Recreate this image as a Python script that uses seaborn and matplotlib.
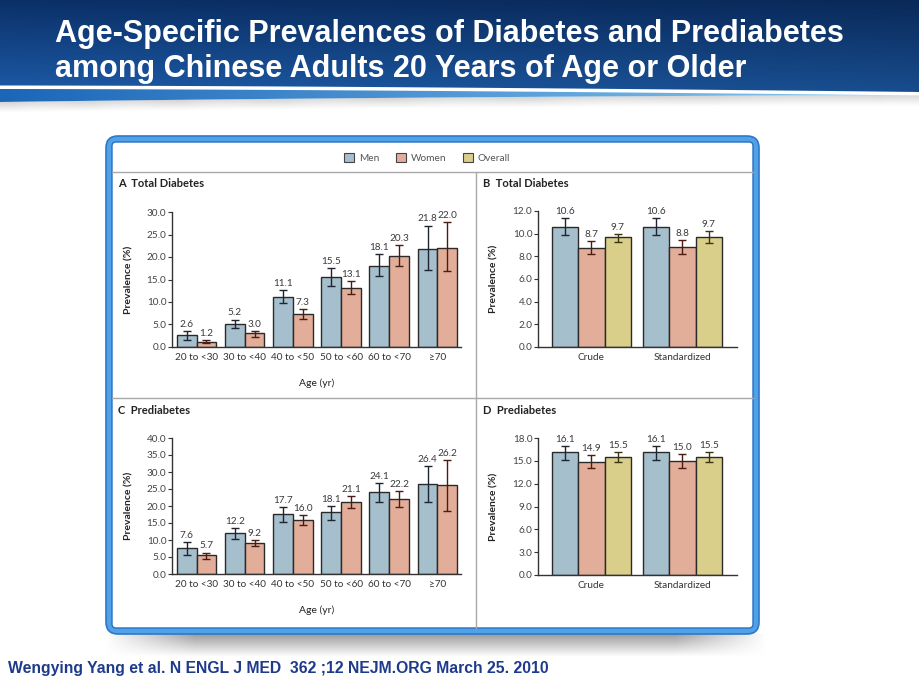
import numpy as np
import pandas as pd
import matplotlib
matplotlib.use("Agg")
import matplotlib.pyplot as plt
import seaborn as sns
from matplotlib.patches import FancyBboxPatch, Patch, Polygon
from matplotlib.lines import Line2D

# ---------------- data ----------------
age_groups = ["20 to <30", "30 to <40", "40 to <50", "50 to <60", "60 to <70", "\u226570"]
methods = ["Crude", "Standardized"]
series = ["Men", "Women", "Overall"]

diab_men = [2.6, 5.2, 11.1, 15.5, 18.1, 21.8]
diab_men_lo = [1.6, 4.2, 9.7, 13.6, 15.8, 17.1]
diab_men_hi = [3.6, 6.1, 12.6, 17.6, 20.6, 27.0]
diab_women = [1.2, 3.0, 7.3, 13.1, 20.3, 22.0]
diab_women_lo = [0.8, 2.3, 6.3, 11.7, 18.0, 16.8]
diab_women_hi = [1.6, 3.6, 8.4, 14.7, 22.6, 27.7]

prediab_men = [7.6, 12.2, 17.7, 18.1, 24.1, 26.4]
prediab_men_lo = [5.5, 10.3, 15.3, 15.8, 21.2, 21.2]
prediab_men_hi = [9.3, 13.5, 19.7, 20.0, 26.8, 31.8]
prediab_women = [5.7, 9.2, 16.0, 21.1, 22.2, 26.2]
prediab_women_lo = [4.5, 8.1, 14.5, 19.3, 19.6, 18.6]
prediab_women_hi = [6.3, 10.0, 17.3, 22.8, 24.4, 33.6]

td_men = [10.6, 10.6]
td_men_lo = [9.9, 9.9]
td_men_hi = [11.4, 11.4]
td_women = [8.7, 8.8]
td_women_lo = [8.2, 8.2]
td_women_hi = [9.35, 9.4]
td_overall = [9.7, 9.7]
td_overall_lo = [9.25, 9.2]
td_overall_hi = [10.0, 10.2]

pd_men = [16.1, 16.1]
pd_men_lo = [15.1, 15.1]
pd_men_hi = [17.0, 17.0]
pd_women = [14.9, 15.0]
pd_women_lo = [14.0, 14.1]
pd_women_hi = [15.8, 15.9]
pd_overall = [15.5, 15.5]
pd_overall_lo = [14.9, 14.9]
pd_overall_hi = [16.1, 16.1]

title_lines = ["Age-Specific Prevalences of Diabetes and Prediabetes",
               "among Chinese Adults 20 Years of Age or Older"]
footer = "Wengying Yang et al. N ENGL J MED  362 ;12 NEJM.ORG March 25. 2010"

colors = {"Men": "#a6bfcd", "Women": "#e2ae9a", "Overall": "#d9cf8b"}
ecolors = {"Men": "#1c2530", "Women": "#4a1c14", "Overall": "#3a3412"}

# ---------------- style ----------------
sns.set_style("ticks")
plt.rcParams['font.family'] = ['Lato', 'DejaVu Sans']

W, H = 920, 690
fig = plt.figure(figsize=(9.2, 6.9), dpi=100)

# ---------------- background ----------------
yy, xx = np.mgrid[0:H, 0:W].astype(float)
img = np.ones((H, W, 3))
top = np.array([0x0b, 0x30, 0x68]) / 255
bot = np.array([0x1c, 0x5a, 0xa6]) / 255
t = np.clip(yy / 90, 0, 1)[..., None]
hdr = top * (1 - t) + bot * t
hdr = hdr * (1 - 0.15 * (xx / W))[..., None]
mask_h = yy < 100
img[mask_h] = hdr[mask_h]
# card shadow
d = (yy - 634) / 22
edge = np.clip(np.minimum(xx - 105, 765 - xx) / 90, 0, 1)
cs = (d >= 0) & (d < 1)
gg = 0.38 * (1 - d) * edge
img[cs] = np.minimum(img[cs], (1 - gg[cs])[:, None] * np.ones(3))

bg = fig.add_axes([0, 0, 1, 1], zorder=-10)
bg.imshow(img, extent=[0, W, H, 0], aspect='auto', interpolation='bilinear', zorder=0)
bg.set_xlim(0, W)
bg.set_ylim(H, 0)
bg.axis('off')

# header swoosh
xs_c = np.linspace(0, W, 400)
c_top = 85.5 + 6.5 * (xs_c / W) ** 1.6
white_bot = c_top + 3.5
thick = np.clip(13 * (1 - xs_c / 880), 0, None)
band_bot = white_bot + thick
bg.fill_between(xs_c, c_top, 112, color="white", lw=0, zorder=1)
for k in range(10):
    bg.fill_between(xs_c, band_bot + k, band_bot + k + 1.2,
                    color=str(1 - 0.16 * (1 - k / 10)), lw=0, zorder=1.5)
grad = np.linspace(0, 1, 256)[None, :, None]
c0 = np.array([0x1c, 0x66, 0xb8]) / 255
c1 = np.array([0x86, 0xc8, 0xf0]) / 255
gimg = c0 * (1 - grad) + c1 * grad
gim = bg.imshow(np.repeat(gimg, 2, axis=0), extent=[0, 880, 110, 85], aspect='auto',
                interpolation='bilinear', zorder=3)
poly = Polygon(np.column_stack([np.r_[xs_c, xs_c[::-1]], np.r_[white_bot, band_bot[::-1]]]),
               closed=True, facecolor='none', edgecolor='none', transform=bg.transData)
bg.add_patch(poly)
gim.set_clip_path(poly)
bg.set_xlim(0, W)
bg.set_ylim(H, 0)

# card
outer = FancyBboxPatch((106, 136), 653, 498, boxstyle="round,pad=0,rounding_size=12",
                       facecolor="#4fa2e8", edgecolor="#2f78c8", linewidth=1.2, zorder=4)
bg.add_patch(outer)
inner = FancyBboxPatch((112, 142), 641, 486, boxstyle="round,pad=0,rounding_size=4",
                       facecolor="white", edgecolor="#2a6fc0", linewidth=1.0, zorder=5)
bg.add_patch(inner)
for xs_, ys_ in [([112, 753], [172, 172]), ([112, 753], [398, 398]), ([476, 476], [172, 628])]:
    bg.add_line(Line2D(xs_, ys_, color="#a8a8a8", lw=1, zorder=6))

# title and footer
fig.text(55 / W, 1 - 34 / H, title_lines[0], color="white", fontsize=22, fontweight="bold",
         family=["Liberation Sans", "DejaVu Sans"], va="center", ha="left")
fig.text(55 / W, 1 - 69 / H, title_lines[1], color="white", fontsize=22, fontweight="bold",
         family=["Liberation Sans", "DejaVu Sans"], va="center", ha="left")
fig.text(8 / W, 1 - 668 / H, footer, color="#1e3a8a", fontsize=11.3, fontweight="bold",
         family=["Liberation Sans", "DejaVu Sans"], va="center", ha="left")


def add_ax(l, r, t, b):
    return fig.add_axes([l / W, 1 - b / H, (r - l) / W, (b - t) / H])


def draw(ax, cats, names, vals, los, his, ylim, yticks, width, xlim, xlabel):
    rows = []
    for n, v in zip(names, vals):
        for c, val in zip(cats, v):
            rows.append({"cat": c, "val": val, "series": n})
    df = pd.DataFrame(rows)
    sns.barplot(data=df, x="cat", y="val", hue="series", order=cats, hue_order=names,
                palette=[colors[n] for n in names], edgecolor="#2a2a2a", linewidth=1.0,
                width=width, errorbar=None, legend=False, saturation=1, ax=ax)
    for cont, n, v, lo, hi in zip(ax.containers, names, vals, los, his):
        xs = [p.get_x() + p.get_width() / 2 for p in cont]
        v = np.array(v); lo = np.array(lo); hi = np.array(hi)
        ax.errorbar(xs, v, yerr=[v - lo, hi - v], fmt="none", ecolor=ecolors[n],
                    elinewidth=1.0, capsize=2.6, capthick=1.0, zorder=5)
        for x, h, val in zip(xs, hi, v):
            ax.annotate(f"{val:.1f}", (x, h), xytext=(0, 1.5), textcoords="offset points",
                        ha="center", va="bottom", fontsize=7.2, color="#3a3a3a")
    ax.set_ylim(*ylim)
    ax.set_xlim(*xlim)
    ax.set_yticks(yticks)
    ax.set_yticklabels([f"{y:.1f}" for y in yticks])
    ax.tick_params(axis="y", length=3, width=0.8, color="#333", labelsize=7.2,
                   labelcolor="#444", pad=1)
    ax.tick_params(axis="x", length=0, labelsize=7.2, labelcolor="#333", pad=4)
    ax.set_facecolor("none")
    for sp in ["top", "right"]:
        ax.spines[sp].set_visible(False)
    for sp in ["left", "bottom"]:
        ax.spines[sp].set_color("#333")
        ax.spines[sp].set_linewidth(1.0)
    ax.set_xlabel(xlabel, fontsize=7.5, color="#222")
    ax.set_ylabel("Prevalence (%)", fontsize=7.5, color="#222", fontweight="bold")


axA = add_ax(172, 461, 212, 347)
draw(axA, age_groups, ["Men", "Women"], [diab_men, diab_women],
     [diab_men_lo, diab_women_lo], [diab_men_hi, diab_women_hi],
     (0, 30), np.arange(0, 30.1, 5), 0.82, (-0.51, 5.49), "Age (yr)")
axA.yaxis.set_label_coords(-0.135, 0.5)
axA.xaxis.set_label_coords(0.5, -0.23)

axB = add_ax(538, 737, 211, 347)
draw(axB, methods, series, [td_men, td_women, td_overall],
     [td_men_lo, td_women_lo, td_overall_lo], [td_men_hi, td_women_hi, td_overall_hi],
     (0, 12), np.arange(0, 12.1, 2), 0.87, (-0.586, 1.6), "")
axB.yaxis.set_label_coords(-0.2, 0.5)

axC = add_ax(172, 461, 438, 574)
draw(axC, age_groups, ["Men", "Women"], [prediab_men, prediab_women],
     [prediab_men_lo, prediab_women_lo], [prediab_men_hi, prediab_women_hi],
     (0, 40), np.arange(0, 40.1, 5), 0.82, (-0.51, 5.49), "Age (yr)")
axC.yaxis.set_label_coords(-0.135, 0.5)
axC.xaxis.set_label_coords(0.5, -0.23)

axD = add_ax(538, 737, 438, 575)
draw(axD, methods, series, [pd_men, pd_women, pd_overall],
     [pd_men_lo, pd_women_lo, pd_overall_lo], [pd_men_hi, pd_women_hi, pd_overall_hi],
     (0, 18), np.arange(0, 18.1, 3), 0.87, (-0.586, 1.6), "")
axD.yaxis.set_label_coords(-0.2, 0.5)

# panel titles
fig.text(118 / W, 1 - 184 / H, "A  Total Diabetes", fontsize=8, fontweight="bold",
         color="#222", va="center")
fig.text(483 / W, 1 - 184 / H, "B  Total Diabetes", fontsize=8, fontweight="bold",
         color="#222", va="center")
fig.text(118 / W, 1 - 411 / H, "C  Prediabetes", fontsize=8, fontweight="bold",
         color="#222", va="center")
fig.text(483 / W, 1 - 411 / H, "D  Prediabetes", fontsize=8, fontweight="bold",
         color="#222", va="center")

# legend
handles = [Patch(facecolor=colors[n], edgecolor="#444", linewidth=0.8, label=n) for n in series]
leg = fig.legend(handles=handles, loc="center", bbox_to_anchor=(427 / W, 1 - 158 / H), ncol=3,
                 frameon=False, fontsize=7.3, handlelength=1.0, handleheight=1.0,
                 columnspacing=1.6, handletextpad=0.5)
for txt in leg.get_texts():
    txt.set_color("#555")

fig.savefig("out.png", dpi=100)
